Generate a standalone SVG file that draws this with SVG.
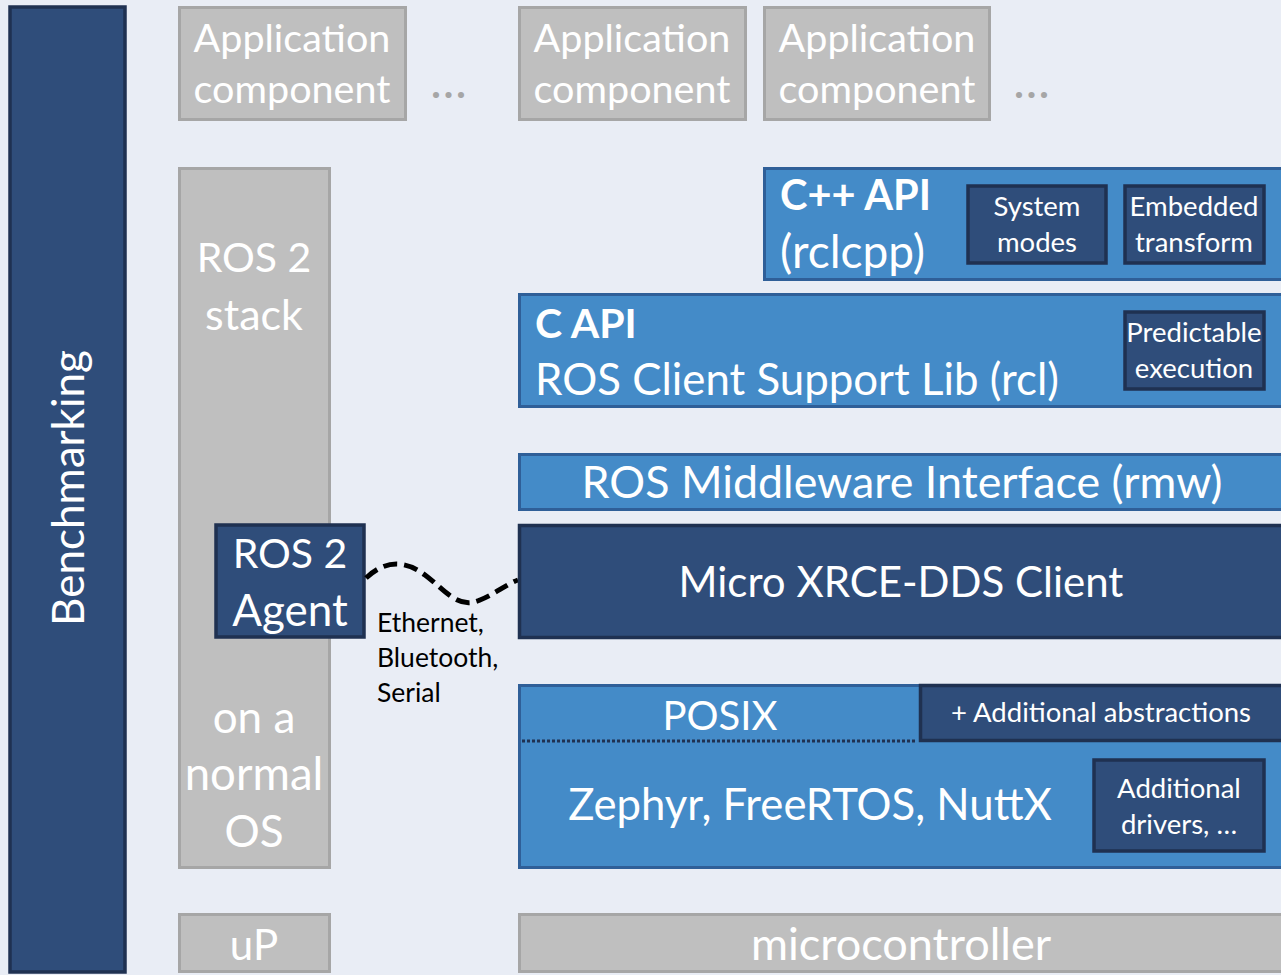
<svg xmlns="http://www.w3.org/2000/svg" width="1281" height="975" viewBox="0 0 1281 975">
<style>
text{font-family:Lato,"Open Sans","Liberation Sans",sans-serif;fill:#fff;text-anchor:middle}
.gray{fill:#bfbfbf;stroke:#a6a6a6;stroke-width:3}
.dark{fill:#2f4d7a;stroke:#1f3151;stroke-width:3.5}
.light{fill:#448bc8;stroke:#2f5f98;stroke-width:3}
.t38{font-size:39.5px}
.t42{font-size:42px}
.t27{font-size:27.5px}
.dots{font-size:40px;font-weight:bold;fill:#a6a6a6;letter-spacing:3px}
.blk{fill:#000;text-anchor:start;font-size:26.5px}
</style>
<rect x="0" y="0" width="1281" height="975" fill="#e9edf5"/>
<g id="benchmarking">
<rect x="10" y="7" width="115" height="965" class="dark" stroke-width="4"/>
<text transform="translate(84,488) rotate(-90)" style="font-size:44px">Benchmarking</text>
</g>
<g id="app1"><rect x="179.5" y="7.5" width="226" height="112" class="gray"/>
<text x="292" y="52" class="t38">Application</text><text x="292" y="103" class="t38">component</text></g>
<g id="dots1"><text x="450" y="98" class="dots">...</text></g>
<g id="app2"><rect x="519.5" y="7.5" width="226" height="112" class="gray"/>
<text x="632" y="52" class="t38">Application</text><text x="632" y="103" class="t38">component</text></g>
<g id="app3"><rect x="764.5" y="7.5" width="225" height="112" class="gray"/>
<text x="877" y="52" class="t38">Application</text><text x="877" y="103" class="t38">component</text></g>
<g id="dots2"><text x="1033" y="98" class="dots">...</text></g>
<g id="ros2stack"><rect x="179.5" y="168.5" width="150" height="699" class="gray"/>
<text x="254" y="272" style="font-size:41px">ROS 2</text><text x="254" y="330" style="font-size:43px">stack</text>
<text x="254" y="733" style="font-size:44px">on a</text><text x="254" y="790" style="font-size:45.5px">normal</text><text x="254" y="847" style="font-size:44px">OS</text></g>
<g id="agent"><rect x="216" y="525" width="148" height="112" class="dark"/>
<text x="290" y="568" style="font-size:41px">ROS 2</text><text x="290" y="626" style="font-size:44px">Agent</text></g>
<g id="connectors">
<path d="M366,578 C385,560 405,560 425,575 C445,590 458,610 480,600 C495,594 505,585 518,580" fill="none" stroke="#000" stroke-width="5" stroke-dasharray="14,7"/>
</g>
<g id="link-label"><text x="377" y="632" class="blk">Ethernet,</text><text x="377" y="667" class="blk">Bluetooth,</text><text x="377" y="702" class="blk">Serial</text></g>
<g id="cpp"><rect x="764.5" y="168.5" width="520" height="111" class="light"/>
<text x="780" y="210" style="text-anchor:start;font-weight:bold;font-size:41.5px">C++ API</text>
<text x="780" y="268" style="text-anchor:start;font-size:46px">(rclcpp)</text></g>
<g id="sysmodes"><rect x="968" y="186" width="138" height="77" class="dark"/>
<text x="1037" y="216" class="t27">System</text><text x="1037" y="252" class="t27">modes</text></g>
<g id="embtf"><rect x="1125" y="186" width="139" height="77" class="dark"/>
<text x="1194" y="216" class="t27">Embedded</text><text x="1194" y="252" class="t27">transform</text></g>
<g id="capi"><rect x="519.5" y="294.5" width="765" height="112" class="light"/>
<text x="535" y="338" style="text-anchor:start;font-weight:bold;font-size:41px">C API</text>
<text x="535" y="395" style="text-anchor:start;font-size:43.8px">ROS Client Support Lib (rcl)</text></g>
<g id="predexec"><rect x="1125" y="312" width="139" height="77" class="dark"/>
<text x="1194" y="342" class="t27">Predictable</text><text x="1194" y="378" class="t27">execution</text></g>
<g id="rmw"><rect x="519.5" y="454.5" width="765" height="55" class="light"/>
<text x="902" y="498" style="font-size:44.8px">ROS Middleware Interface (rmw)</text></g>
<g id="xrce"><rect x="519.5" y="525.5" width="765" height="112" class="dark"/>
<text x="901" y="597" class="t42">Micro XRCE-DDS Client</text></g>
<g id="rtos"><rect x="519.5" y="685.5" width="765" height="182" class="light"/>
<line x1="522" y1="741" x2="916" y2="741" stroke="#1f3151" stroke-width="3" stroke-dasharray="3,2"/>
<text x="720" y="730" style="font-size:40px">POSIX</text>
<text x="810" y="820" style="font-size:43.7px">Zephyr, FreeRTOS, NuttX</text></g>
<g id="addabs"><rect x="920.5" y="685.5" width="364" height="55" class="dark"/>
<text x="1101" y="722" class="t27">+ Additional abstractions</text></g>
<g id="adddrv"><rect x="1094" y="760" width="170" height="91" class="dark"/>
<text x="1179" y="798" class="t27">Additional</text><text x="1179" y="834" class="t27">drivers, …</text></g>
<g id="up"><rect x="179.5" y="914.5" width="150" height="57" class="gray"/>
<text x="254" y="960" class="t42">uP</text></g>
<g id="mcu"><rect x="519.5" y="914.5" width="765" height="57" class="gray"/>
<text x="901" y="960" style="font-size:45px">microcontroller</text></g>
</svg>
